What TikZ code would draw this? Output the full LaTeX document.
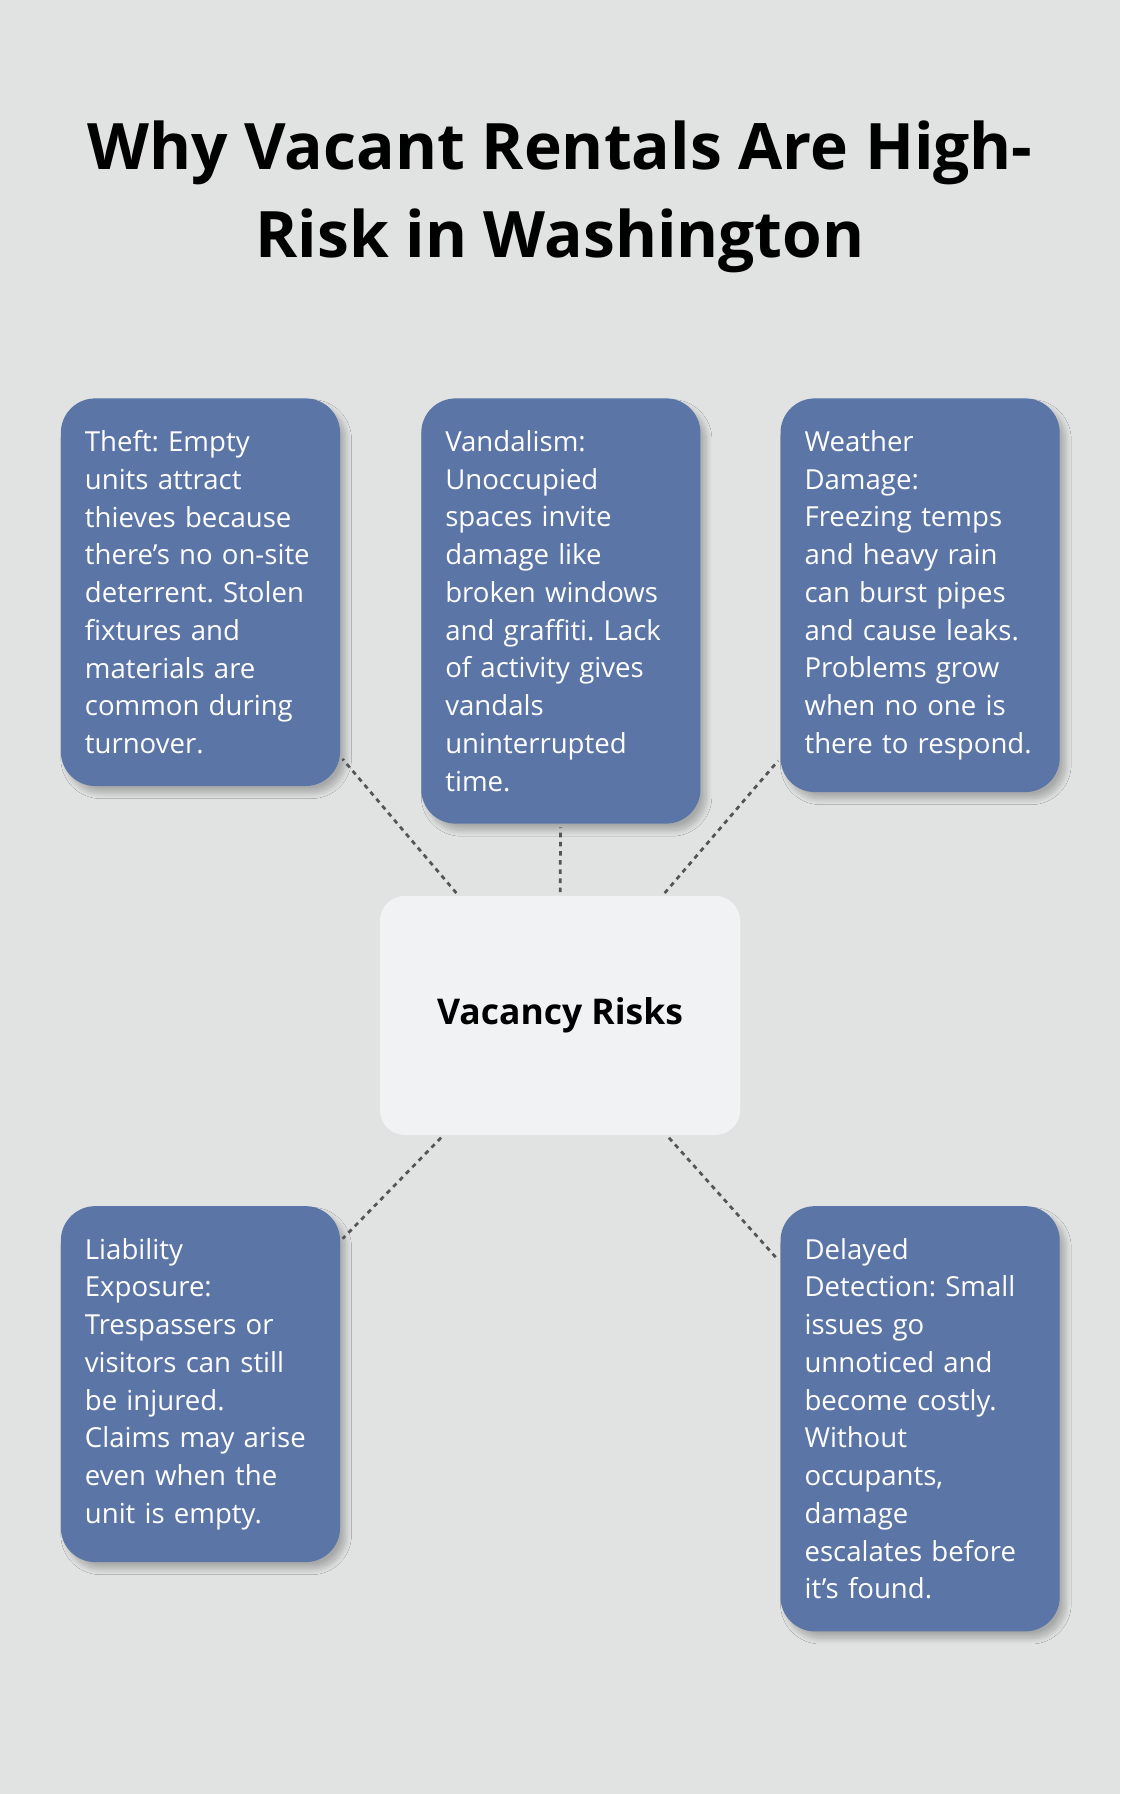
\documentclass[tikz,border=0pt]{standalone}
\usepackage{fontspec}
\setmainfont{Open Sans}
\frenchspacing
\usetikzlibrary{positioning, shadows.blur}
\definecolor{xbg}{HTML}{E0E3E2}
\definecolor{xblue}{HTML}{5B75A6}
\definecolor{xcentre}{HTML}{F1F2F4}
\definecolor{xdots}{HTML}{555555}
\tikzset{
	risk/.style={rounded corners=30pt, fill=xblue, text=white, anchor=north west,
		text width=202pt, align=left, inner xsep=21pt, inner ysep=28pt,
		font=\fontsize{24.1}{33}\selectfont, blur shadow={shadow blur steps=10, shadow blur radius=5pt, shadow xshift=5pt, shadow yshift=-6pt, shadow opacity=25}},
	link/.style={draw=xdots, line width=2.4pt, dash pattern=on 4pt off 4pt, shorten <=3pt, shorten >=3pt},
}
\begin{document}
\begin{tikzpicture}[x=1pt, y=-1pt]
	\fill[xbg] (0,0) rectangle (979,1568);
	\node[font=\fontsize{56}{77}\selectfont\bfseries, align=center] (title) at (489.5,172)
		{Why Vacant Rentals Are High-\\Risk in Washington};

	\node[rounded corners=22pt, fill=xcentre, minimum width=315pt, minimum height=209pt,
		font=\fontsize{31}{36}\selectfont\bfseries] (centre) at (489.5,887.5) {Vacancy Risks};

	\node[risk] (theft) at (53,348) {Theft: Empty\\units attract\\thieves because\\there’s no on-site\\deterrent. Stolen\\fixtures and\\materials are\\common during\\turnover.};
	\node[risk] (vandal) at (368,348) {Vandalism:\\Unoccupied\\spaces invite\\damage like\\broken windows\\and graffiti. Lack\\of activity gives\\vandals\\uninterrupted\\time.};
	\node[risk] (weather) at (682,348) {Weather\\Damage:\\Freezing temps\\and heavy rain\\can burst pipes\\and cause leaks.\\Problems grow\\when no one is\\there to respond.};
	\node[risk] (liable) at (53,1054) {Liability\\Exposure:\\Trespassers or\\visitors can still\\be injured.\\Claims may arise\\even when the\\unit is empty.};
	\node[risk] (delay) at (682,1054) {Delayed\\Detection: Small\\issues go\\unnoticed and\\become costly.\\Without\\occupants,\\damage\\escalates before\\it’s found.};

	\draw[link] (centre) -- (theft);
	\draw[link] (centre) -- (vandal);
	\draw[link] (centre) -- (weather);
	\draw[link] (centre) -- (liable);
	\draw[link] (centre) -- (delay);
\end{tikzpicture}
\end{document}
